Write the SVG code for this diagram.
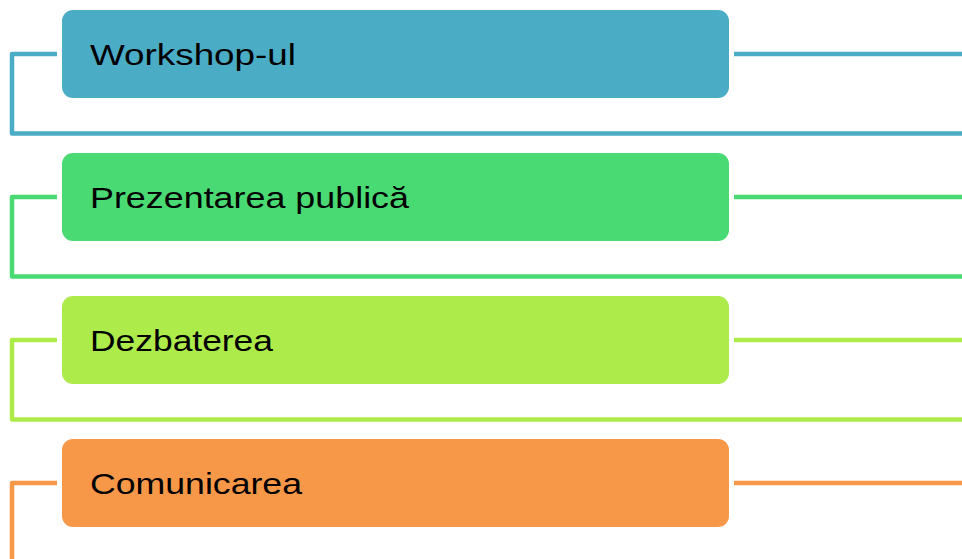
<svg xmlns="http://www.w3.org/2000/svg" width="962" height="559" viewBox="0 0 962 559">
<style>
.c{fill:none;stroke-width:4.5;stroke-linejoin:round}
.t{font-family:"Liberation Sans",Arial,sans-serif;font-size:30px;fill:#000}
.b{fill:#4BACC6}.bs{stroke:#4BACC6}
.g{fill:#4ADA74}.gs{stroke:#4ADA74}
.l{fill:#ADEB4A}.ls{stroke:#ADEB4A}
.o{fill:#F79849}.os{stroke:#F79849}
</style>
<rect width="962" height="559" fill="#fff"/>
<g id="connectors">
<path class="c bs" d="M57,54 H12 V133.5 H962"/>
<path class="c bs" d="M734,54 H962"/>
<path class="c gs" d="M57,197 H12 V276.5 H962"/>
<path class="c gs" d="M734,197 H962"/>
<path class="c ls" d="M57,340 H12 V419.5 H962"/>
<path class="c ls" d="M734,340 H962"/>
<path class="c os" d="M57,483 H12 V562"/>
<path class="c os" d="M734,483 H962"/>
</g>
<g id="node1"><rect class="b" x="62" y="10" width="667" height="88" rx="11"/><text class="t" x="90" y="65" textLength="206" lengthAdjust="spacingAndGlyphs">Workshop-ul</text></g>
<g id="node2"><rect class="g" x="62" y="153" width="667" height="88" rx="11"/><text class="t" x="90" y="208" textLength="319" lengthAdjust="spacingAndGlyphs">Prezentarea publică</text></g>
<g id="node3"><rect class="l" x="62" y="296" width="667" height="88" rx="11"/><text class="t" x="90" y="351" textLength="183" lengthAdjust="spacingAndGlyphs">Dezbaterea</text></g>
<g id="node4"><rect class="o" x="62" y="439" width="667" height="88" rx="11"/><text class="t" x="90" y="494" textLength="212" lengthAdjust="spacingAndGlyphs">Comunicarea</text></g>
</svg>
